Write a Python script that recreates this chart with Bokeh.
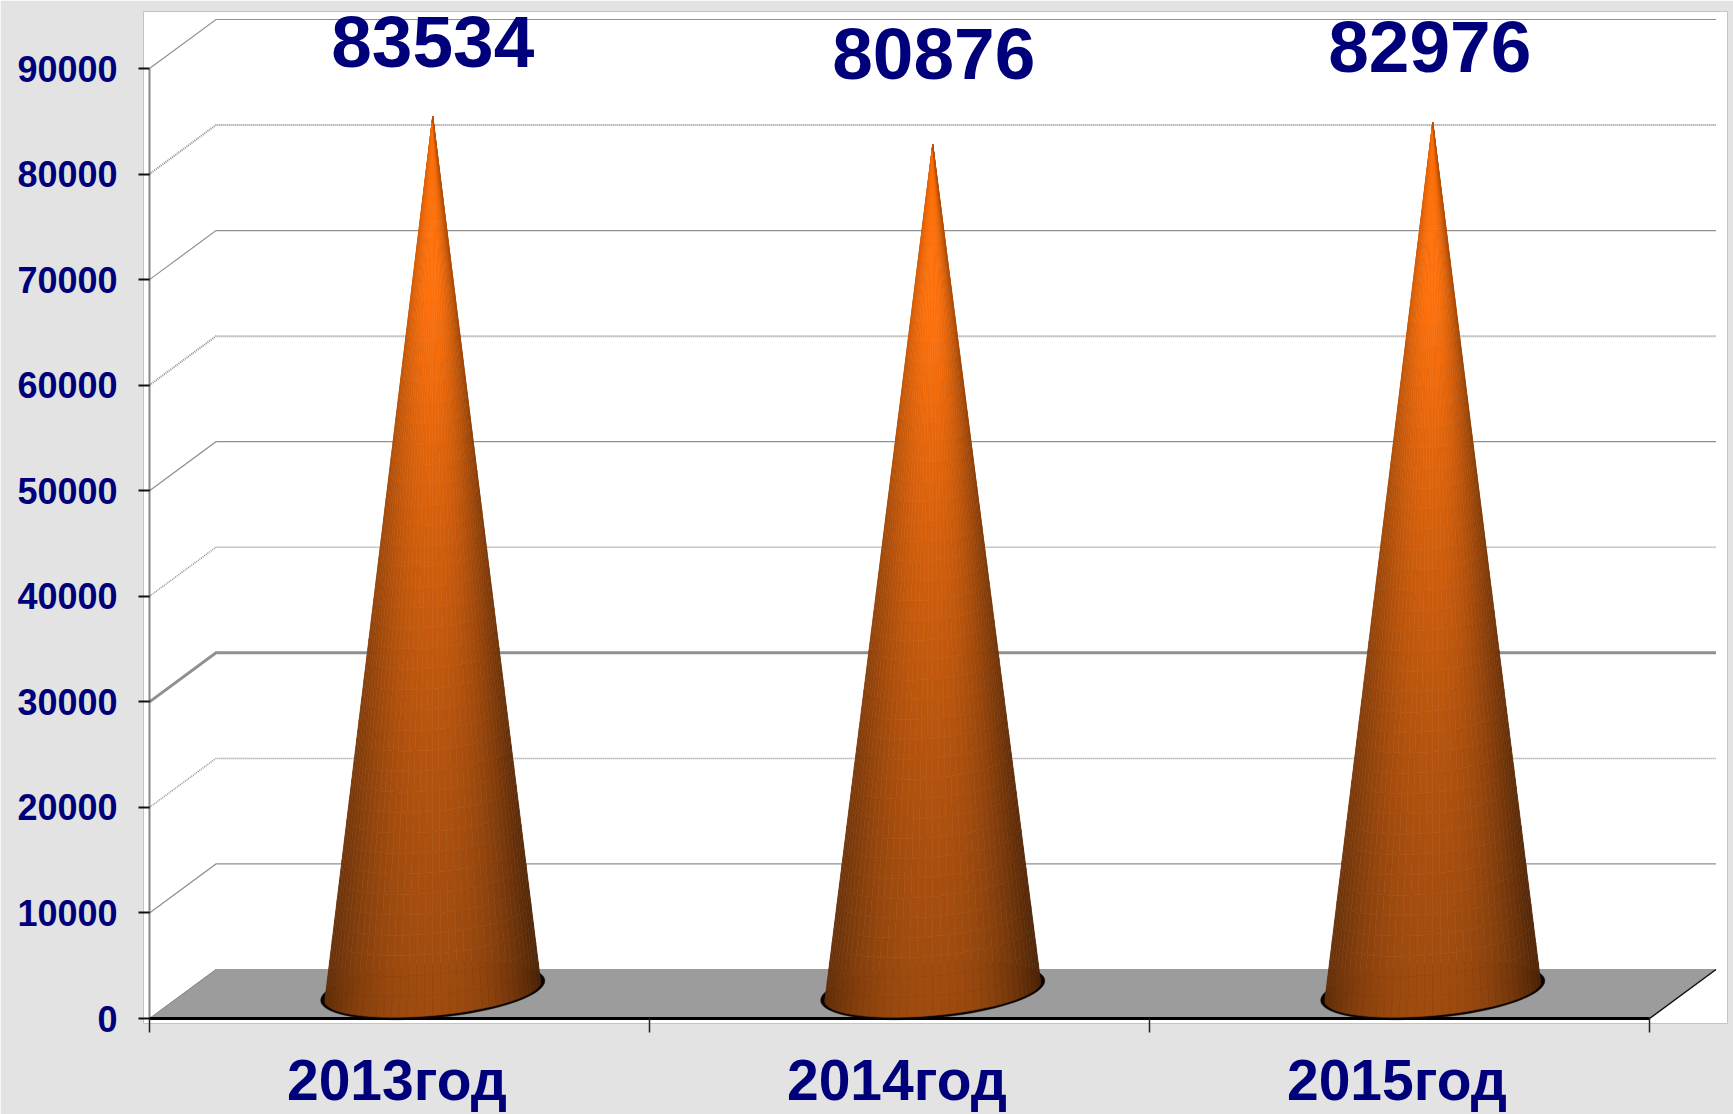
import numpy as np
from bokeh.core.properties import value
from bokeh.embed import file_html
from bokeh.models import ColumnDataSource, FixedTicker, LabelSet, LinearAxis, Range1d
from bokeh.plotting import figure
from bokeh.resources import INLINE

categories = ["2013год", "2014год", "2015год"]
values = [83534, 80876, 82976]
y_ticks = [0, 10000, 20000, 30000, 40000, 50000, 60000, 70000, 80000, 90000]
grid_values = [10000, 20000, 30000, 40000, 50000, 60000, 70000, 80000, 90000]
grid_dash = ["solid", "1 1", "solid", "1 1", "solid", "1 1", "solid", "1 1", "solid"]
grid_width = [1.2, 1.5, 3, 1.5, 1.2, 2, 1.2, 2, 1.2]
label_lift_px = [0, -12, -5]
label_shift_px = [0, 1, -3]

NAVY = "#00007a"
PAGE_BG = "#e3e3e3"

W, H = 1733, 1114
FRAME_L, FRAME_R, FRAME_T, FRAME_B = 143, 1727, 11, 1023
ORIGIN_X, ORIGIN_Y = 149.0, 1018.0
PX_PER_X = 500.0
PX_PER_Y = 950.0 / 90000.0
DX = 66.5 / PX_PER_X
DY = 49.0 / PX_PER_Y

p = figure(
    width=W, height=H, output_backend="svg", toolbar_location=None,
    x_range=Range1d((FRAME_L - ORIGIN_X) / PX_PER_X, (FRAME_R - ORIGIN_X) / PX_PER_X),
    y_range=Range1d((ORIGIN_Y - FRAME_B) / PX_PER_Y, (ORIGIN_Y - FRAME_T) / PX_PER_Y),
    x_axis_type=None, y_axis_type=None,
    min_border_left=FRAME_L, min_border_right=W - FRAME_R,
    min_border_top=FRAME_T, min_border_bottom=H - FRAME_B,
    background_fill_color="white", border_fill_color=PAGE_BG,
    outline_line_color="#c4c4c4", outline_line_width=1,
)
p.grid.visible = False

for v, dash, w in zip(grid_values, grid_dash, grid_width):
    p.line([0, DX, 3 + DX], [v, v + DY, v + DY], line_color="#909090",
           line_width=w, line_dash=dash, line_join="miter")

n = len(categories)
p.patch([0, n, n + DX, DX], [0, 0, DY, DY], fill_color="#9c9c9c", line_color="#9c9c9c", line_width=1)
p.line([n, n + DX], [0, DY], line_color="#111111", line_width=1.5)
p.line([0, DX], [0, DY], line_color="#8a8a8a", line_width=1)

p.line([0, 0], [0, y_ticks[-1]], line_color="#111111", line_width=2, line_dash="1 1")
p.line([0, n], [0, 0], line_color="#000000", line_width=3)


def shade(u, t):
    """u: -1 (left) .. 1 (right) across the cone, t: 0 base .. 1 apex"""
    low = np.array([160, 76, 16])
    high = np.array([255, 112, 10])
    centre = low + (high - low) * min(t * 1.25, 1) ** 1.5
    edge = (0.62 if u < 0 else 0.48) + 0.25 * t
    k = 1 - (1 - edge) * abs(u) ** 2.2
    return "#%02x%02x%02x" % tuple(int(c) for c in np.clip(centre * k, 0, 255))


A_PX, B_PX, TILT = 108.0, 24.0, 0.087
BASE_LIFT_PX, APEX_LIFT_PX = 27.0, 20.0
thetas = np.linspace(-np.pi / 2, np.pi / 2, 41)
levels = np.linspace(0, 1, 45)

label_x, label_y = [], []
for i, val in enumerate(values):
    cx = i + 0.5 + DX / 2
    cy = BASE_LIFT_PX / PX_PER_Y
    ay = val + APEX_LIFT_PX / PX_PER_Y

    ang = np.linspace(0, 2 * np.pi, 90)
    ex = (A_PX + 4) * np.sin(ang)
    ey = -(B_PX + 3.5) * np.cos(ang) + TILT * (A_PX + 4) * np.sin(ang)
    p.patch(cx + ex / PX_PER_X, cy + (ey + 1) / PX_PER_Y,
            fill_color="#0a0400", line_color="#0a0400", line_width=0.5)

    bx = A_PX * np.sin(thetas)
    by = -B_PX * np.cos(thetas) + TILT * A_PX * np.sin(thetas)
    xs, ys, cols = [], [], []
    for j in range(len(thetas) - 1):
        um = np.sin((thetas[j] + thetas[j + 1]) / 2)
        for k in range(len(levels) - 1):
            t0, t1 = levels[k], levels[k + 1]

            def P(idx, t):
                return (cx + bx[idx] * (1 - t) / PX_PER_X,
                        cy + by[idx] * (1 - t) / PX_PER_Y + (ay - cy) * t)
            a, b, c, d = P(j, t0), P(j + 1, t0), P(j + 1, t1), P(j, t1)
            xs.append([a[0], b[0], c[0], d[0]])
            ys.append([a[1], b[1], c[1], d[1]])
            cols.append(shade(um, (t0 + t1) / 2))
    p.patches(xs, ys, fill_color=cols, line_color=cols, line_width=0.6)

    label_x.append(cx + label_shift_px[i] / PX_PER_X)
    label_y.append((ORIGIN_Y - 66 + label_lift_px[i]) / PX_PER_Y)

labels = LabelSet(
    x="x", y="y", text="text",
    source=ColumnDataSource(dict(x=label_x, y=label_y, text=[str(v) for v in values])),
    text_font=value("Liberation Sans"), text_font_style="bold", text_font_size=value("73px"),
    text_color=NAVY, text_align="center", text_baseline="alphabetic",
)
p.add_layout(labels)

yax = LinearAxis(ticker=FixedTicker(ticks=y_ticks))
yax.axis_line_color = None
yax.major_tick_in = 6
yax.major_tick_out = 5
yax.major_tick_line_color = "#111111"
yax.major_tick_line_width = 2
yax.minor_tick_line_color = None
yax.major_label_text_font = "Liberation Sans"
yax.major_label_text_font_style = "bold"
yax.major_label_text_font_size = "36px"
yax.major_label_text_color = NAVY
yax.major_label_standoff = 21
p.add_layout(yax, "left")

label_ticks = [k + 0.495 for k in range(n)]
xax = LinearAxis(
    ticker=FixedTicker(ticks=label_ticks, minor_ticks=list(range(n + 1))),
    major_label_overrides=dict(zip(label_ticks, categories)),
)
xax.axis_line_color = None
xax.major_tick_line_color = None
xax.major_tick_in = 0
xax.major_tick_out = 0
xax.minor_tick_in = 5
xax.minor_tick_out = 9
xax.minor_tick_line_color = "#222222"
xax.minor_tick_line_width = 1.5
xax.major_label_text_font = "Liberation Sans"
xax.major_label_text_font_style = "bold"
xax.major_label_text_font_size = "57px"
xax.major_label_text_color = NAVY
xax.major_label_standoff = 15
p.add_layout(xax, "below")

open("out.html", "w").write(file_html(p, INLINE))
